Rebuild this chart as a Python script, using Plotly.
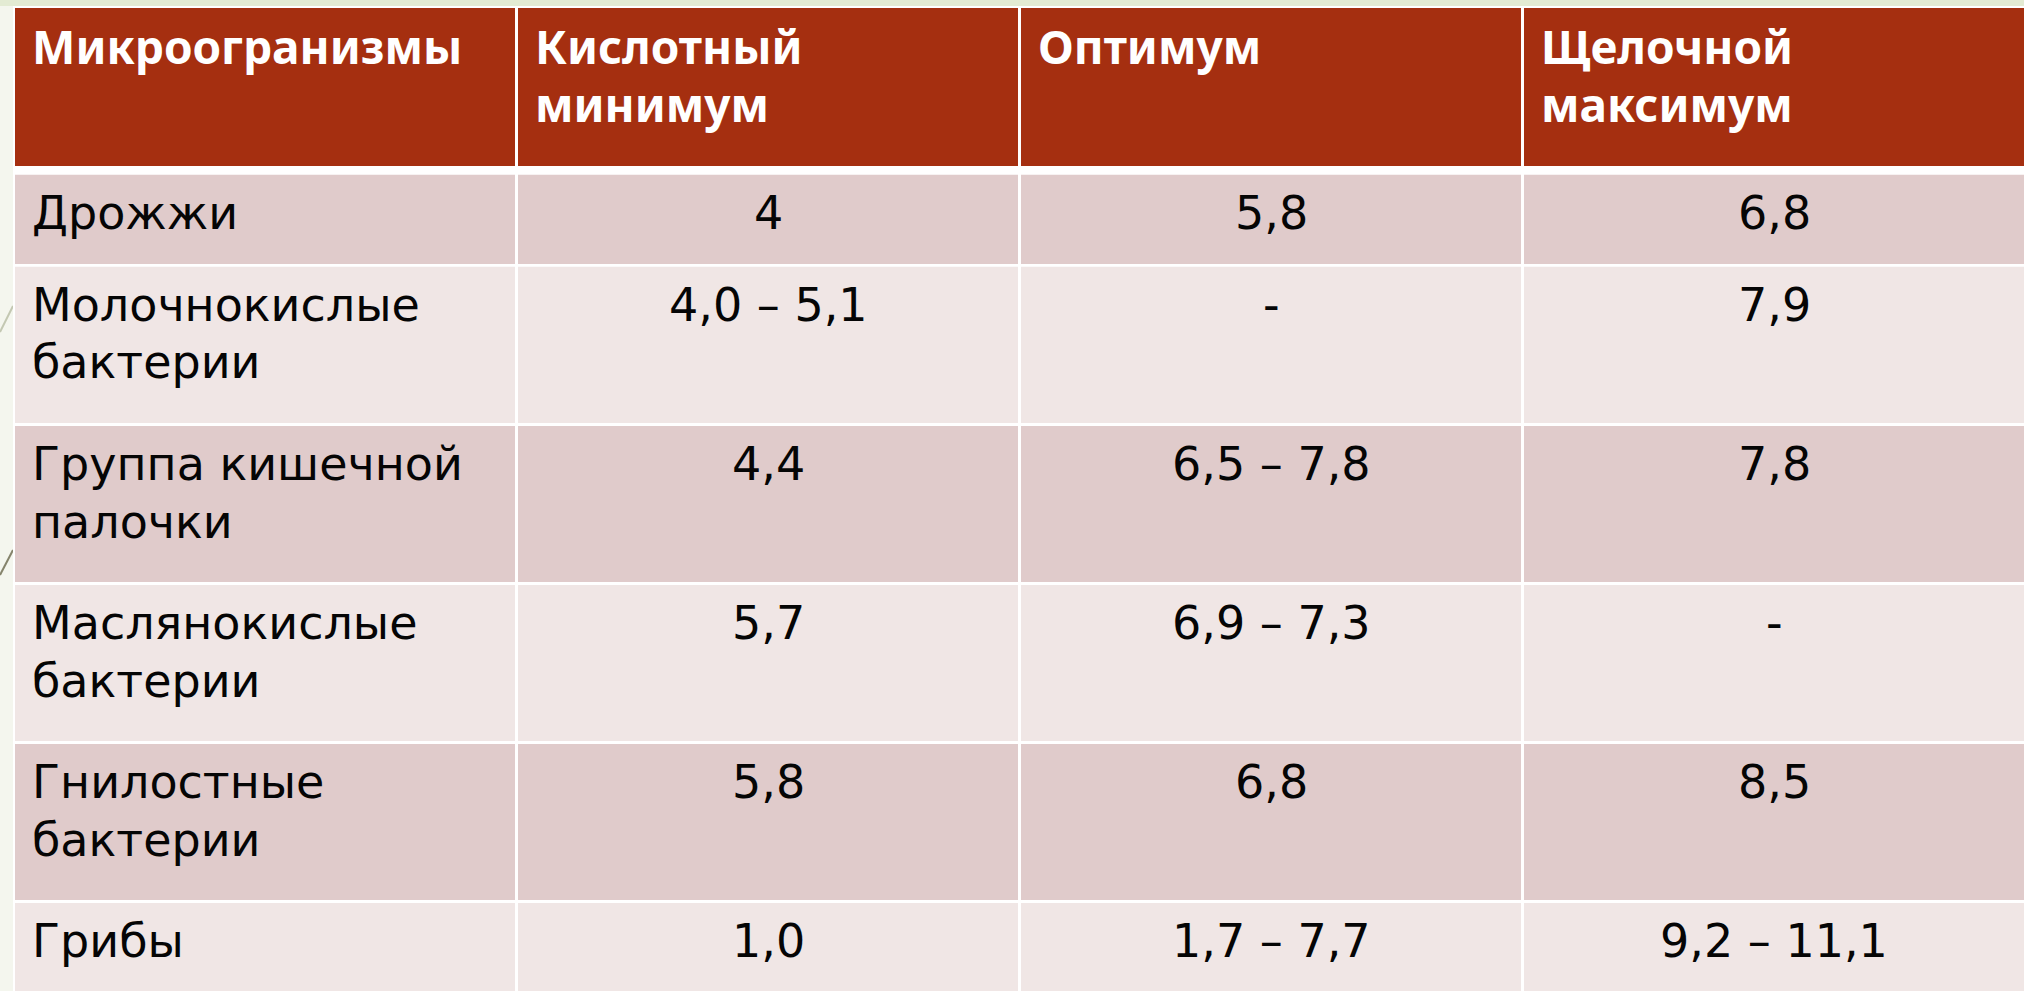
import plotly.graph_objects as go

# ---- data ----
headers = ["Микроогранизмы", "Кислотный\nминимум", "Оптимум", "Щелочной\nмаксимум"]
microorganisms = ["Дрожжи", "Молочнокислые\nбактерии", "Группа кишечной\nпалочки",
                  "Маслянокислые\nбактерии", "Гнилостные\nбактерии", "Грибы"]
acid_minimum = ["4", "4,0 – 5,1", "4,4", "5,7", "5,8", "1,0"]
optimum = ["5,8", "-", "6,5 – 7,8", "6,9 – 7,3", "6,8", "1,7 – 7,7"]
alkaline_maximum = ["6,8", "7,9", "7,8", "-", "8,5", "9,2 – 11,1"]

# ---- layout constants (pixels) ----
W, H = 2024, 991
col_edges = [(15, 515), (518, 1018), (1021, 1521), (1524, 2040)]
header_box = (8, 166)
row_boxes = [(174.7, 264), (266.7, 423), (426, 582), (585, 741), (744, 900), (903, 1000)]
HEADER_BG = "#A52F10"
ROW_DARK = "#E0CBCB"
ROW_LIGHT = "#F0E6E5"
FONT = "DejaVu Sans"
HFONT = "Noto Sans"
FS = 46
HFS = 46
LINE = 57.6
PAD = 17

fig = go.Figure()
fig.add_trace(go.Scatter(x=[0, W], y=[0, H], mode="markers",
                         marker=dict(opacity=0), hoverinfo="skip", showlegend=False))

shapes = []
annotations = []

# background top strip and decorative lines
shapes.append(dict(type="rect", xref="x", yref="y", x0=0, x1=W, y0=0, y1=6,
                   fillcolor="#E3EBD3", line=dict(width=0), layer="below"))
shapes.append(dict(type="line", xref="x", yref="y", x0=0, y0=332, x1=13, y1=306,
                   line=dict(color="#C3C8B2", width=2), layer="below"))
shapes.append(dict(type="line", xref="x", yref="y", x0=0, y0=575, x1=13, y1=550,
                   line=dict(color="#85846C", width=2), layer="below"))
# white table frame
shapes.append(dict(type="rect", xref="x", yref="y", x0=13, x1=W + 20, y0=6, y1=H + 20,
                   fillcolor="white", line=dict(width=0), layer="below"))

all_cols = [microorganisms, acid_minimum, optimum, alkaline_maximum]

# header cells
for ci, (x0, x1) in enumerate(col_edges):
    shapes.append(dict(type="rect", xref="x", yref="y", x0=x0, x1=x1,
                       y0=header_box[0], y1=header_box[1],
                       fillcolor=HEADER_BG, line=dict(width=0), layer="below"))
    for li, line in enumerate(headers[ci].split("\n")):
        annotations.append(dict(x=x0 + PAD - 2, y=header_box[0] + 38 + li * LINE,
                                xref="x", yref="y", text=line, showarrow=False,
                                xanchor="left", yanchor="middle",
                                font=dict(family=HFONT, size=HFS, color="white", weight="bold")))

# body cells
for ri, (y0, y1) in enumerate(row_boxes):
    fill = ROW_DARK if ri % 2 == 0 else ROW_LIGHT
    for ci, (x0, x1) in enumerate(col_edges):
        shapes.append(dict(type="rect", xref="x", yref="y", x0=x0, x1=x1, y0=y0, y1=y1,
                           fillcolor=fill, line=dict(width=0), layer="below"))
        text = all_cols[ci][ri]
        for li, line in enumerate(text.split("\n")):
            if ci == 0:
                ax, xa = x0 + PAD - 2, "left"
            else:
                ax, xa = (x0 + min(x1, 2024)) / 2, "center"
            annotations.append(dict(x=ax, y=y0 + 38 + li * LINE, xref="x", yref="y",
                                    text=line, showarrow=False, xanchor=xa, yanchor="middle",
                                    font=dict(family=FONT, size=FS, color="#050505")))

fig.update_layout(
    width=W, height=H, margin=dict(l=0, r=0, t=0, b=0),
    paper_bgcolor="#F4F6EE", plot_bgcolor="#F4F6EE",
    xaxis=dict(range=[0, W], visible=False, fixedrange=True),
    yaxis=dict(range=[H, 0], visible=False, fixedrange=True),
    shapes=shapes, annotations=annotations, showlegend=False,
)
fig.write_html("out.html", config={"displayModeBar": False},
               post_script="document.body.style.margin='0';document.body.style.overflow='hidden';")
